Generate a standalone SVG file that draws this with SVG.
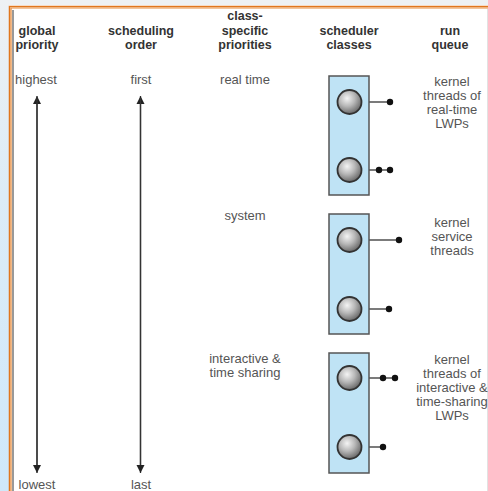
<svg xmlns="http://www.w3.org/2000/svg" width="488" height="491" viewBox="0 0 488 491">
<defs>
<linearGradient id="side" x1="0" y1="0" x2="0" y2="1">
<stop offset="0" stop-color="#eef1f4"/>
<stop offset="0.4" stop-color="#dcecf7"/>
<stop offset="1" stop-color="#cfe8fa"/>
</linearGradient>
<radialGradient id="ball" cx="0.4" cy="0.35" r="0.65">
<stop offset="0" stop-color="#f4f4f4"/>
<stop offset="0.5" stop-color="#b8b8b8"/>
<stop offset="1" stop-color="#6a6a6a"/>
</radialGradient>
<marker id="ah" viewBox="0 0 8 10" refX="8" refY="5" markerWidth="8" markerHeight="10" markerUnits="userSpaceOnUse" orient="auto">
<path d="M0,1 L8,5 L0,9 Z" fill="#222"/>
</marker>
<style>
.hd{font-family:"Liberation Sans",Arial,sans-serif;font-size:12.5px;font-weight:bold;fill:#333;text-anchor:middle}
.tx{font-family:"Liberation Sans",Arial,sans-serif;font-size:13px;fill:#555;text-anchor:middle}
.box{fill:#bfe3f5;stroke:#555;stroke-width:1.5}
.ball{fill:url(#ball);stroke:#333;stroke-width:1.8}
.ln{stroke:#333;stroke-width:1.3;fill:none}
.dot{fill:#111}
.ax{stroke:#333;stroke-width:1.3;fill:none}
</style>
</defs>
<rect x="0" y="0" width="488" height="491" fill="#ffffff"/>
<rect x="0" y="0" width="488" height="5" fill="#eef1f4"/>
<rect x="0" y="0" width="9" height="491" fill="url(#side)"/>
<path d="M9.5,491 V6.5 H488" fill="none" stroke="#e0761e" stroke-width="1.5"/>
<path d="M11,491 V8 H488" fill="none" stroke="#e68a3a" stroke-width="1.2"/>
<line x1="13" y1="10" x2="13" y2="491" stroke="#555" stroke-width="1.2"/>
<line x1="487.5" y1="9" x2="487.5" y2="491" stroke="#e2e2e2" stroke-width="1"/>

<g id="headers">
<text class="hd" x="37" y="35">global</text>
<text class="hd" x="37" y="49">priority</text>
<text class="hd" x="141" y="35">scheduling</text>
<text class="hd" x="141" y="49">order</text>
<text class="hd" x="245" y="20">class-</text>
<text class="hd" x="245" y="35">specific</text>
<text class="hd" x="245" y="49">priorities</text>
<text class="hd" x="349" y="35">scheduler</text>
<text class="hd" x="349" y="49">classes</text>
<text class="hd" x="450" y="35">run</text>
<text class="hd" x="450" y="49">queue</text>
</g>

<g id="axis-labels">
<text class="tx" x="36" y="84">highest</text>
<text class="tx" x="141" y="84">first</text>
<text class="tx" x="37" y="489">lowest</text>
<text class="tx" x="141" y="489">last</text>
</g>

<g id="connectors">
<line class="ax" x1="37" y1="470" x2="37" y2="96" marker-end="url(#ah)"/>
<line class="ax" x1="37" y1="98" x2="37" y2="473" marker-end="url(#ah)"/>
<line class="ax" x1="140.5" y1="470" x2="140.5" y2="96" marker-end="url(#ah)"/>
<line class="ax" x1="140.5" y1="98" x2="140.5" y2="473" marker-end="url(#ah)"/>
<line class="ln" x1="369" y1="102" x2="390" y2="102"/>
<line class="ln" x1="369" y1="170" x2="390" y2="170"/>
<line class="ln" x1="369" y1="240" x2="399" y2="240"/>
<line class="ln" x1="369" y1="309" x2="389" y2="309"/>
<line class="ln" x1="369" y1="378" x2="395" y2="378"/>
<line class="ln" x1="369" y1="447" x2="383" y2="447"/>
</g>

<g id="class-realtime">
<text class="tx" x="245" y="84">real time</text>
<rect class="box" x="329" y="76" width="40" height="119"/>
<circle class="ball" cx="349.5" cy="102" r="12"/>
<circle class="ball" cx="349.5" cy="170" r="12"/>
<circle class="dot" cx="390" cy="102" r="3.2"/>
<circle class="dot" cx="379" cy="170" r="3.2"/>
<circle class="dot" cx="390" cy="170" r="3.2"/>
<text class="tx" x="452" y="86">kernel</text>
<text class="tx" x="452" y="100">threads of</text>
<text class="tx" x="452" y="114">real-time</text>
<text class="tx" x="452" y="128">LWPs</text>
</g>

<g id="class-system">
<text class="tx" x="245" y="220">system</text>
<rect class="box" x="329" y="214" width="40" height="120"/>
<circle class="ball" cx="349.5" cy="240" r="12"/>
<circle class="ball" cx="349.5" cy="309" r="12"/>
<circle class="dot" cx="399" cy="240" r="3.2"/>
<circle class="dot" cx="389" cy="309" r="3.2"/>
<text class="tx" x="452" y="227">kernel</text>
<text class="tx" x="452" y="241">service</text>
<text class="tx" x="452" y="255">threads</text>
</g>

<g id="class-interactive">
<text class="tx" x="245" y="363">interactive &amp;</text>
<text class="tx" x="245" y="377">time sharing</text>
<rect class="box" x="329" y="353" width="40" height="120"/>
<circle class="ball" cx="349.5" cy="378" r="12"/>
<circle class="ball" cx="349.5" cy="447" r="12"/>
<circle class="dot" cx="383" cy="378" r="3.2"/>
<circle class="dot" cx="395" cy="378" r="3.2"/>
<circle class="dot" cx="383" cy="447" r="3.2"/>
<text class="tx" x="452" y="364">kernel</text>
<text class="tx" x="452" y="378">threads of</text>
<text class="tx" x="452" y="392">interactive &amp;</text>
<text class="tx" x="452" y="406">time-sharing</text>
<text class="tx" x="452" y="420">LWPs</text>
</g>
</svg>
